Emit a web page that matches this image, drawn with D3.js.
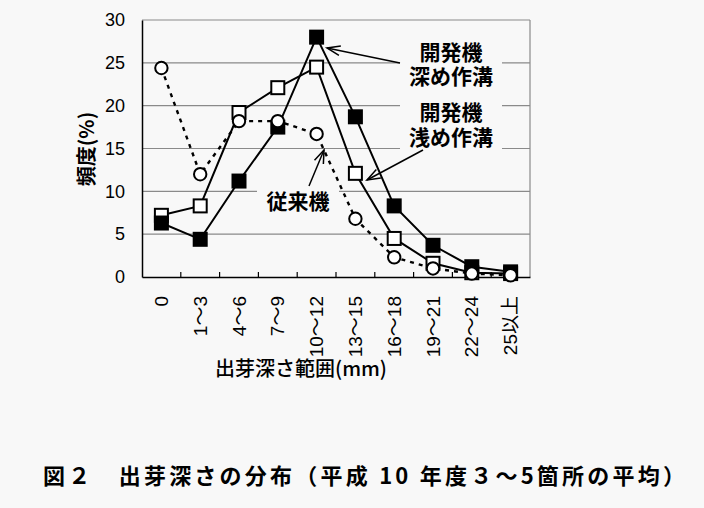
<!DOCTYPE html>
<html><head><meta charset="utf-8">
<script src="https://cdn.jsdelivr.net/npm/d3@7"></script>
<style>
html,body{margin:0;padding:0;background:#f8f8f8;}
svg{display:block;}
</style></head>
<body>
<svg id="chart" width="704" height="508"></svg>
<script>
const categories = ["0","1～3","4～6","7～9","10～12","13～15","16～18","19～21","22～24","25以上"];
const deepValues = [6.3, 4.4, 11.2, 17.5, 28.0, 18.7, 8.3, 3.7, 1.2, 0.6];
const shallowValues = [7.2, 8.3, 19.2, 22.1, 24.5, 12.1, 4.5, 1.6, 0.5, 0.4];
const conventionalValues = [24.4, 12.0, 18.2, 18.2, 16.7, 6.8, 2.3, 1.0, 0.4, 0.2];
const yTicks = [0,5,10,15,20,25,30];

(function(){
const font = "'Noto Sans CJK JP','Noto Sans CJK SC',sans-serif";
const tightFont = "'Liberation Sans','Noto Sans CJK JP',sans-serif";
const svg = d3.select("#chart");
const W = 704, H = 508;
svg.append("rect").attr("width",W).attr("height",H).attr("fill","#f8f8f8");

const pL = 142, pR = 530, pT = 20, pB = 277;
const x = d3.scaleBand().domain(categories).range([pL,pR]).padding(0);
const y = d3.scaleLinear().domain([0,30]).range([pB,pT]);
const cx = d => x(d) + x.bandwidth()/2;

// gridlines
const g = svg.append("g");
g.selectAll("line.grid").data(yTicks.filter(v=>v>0)).join("line")
  .attr("x1",pL).attr("x2",pR).attr("y1",d=>y(d)).attr("y2",d=>y(d))
  .attr("stroke","#8a8a8a").attr("stroke-width",1.2);
g.append("line").attr("x1",pR).attr("x2",pR).attr("y1",pT).attr("y2",pB)
  .attr("stroke","#8a8a8a").attr("stroke-width",1.2);

// y axis
const yAxis = d3.axisLeft(y).tickValues(yTicks).tickSize(0).tickPadding(17);
const ya = svg.append("g").attr("transform",`translate(${pL},0)`).call(yAxis);
ya.select(".domain").attr("stroke","#000").attr("stroke-width",1.5);
ya.selectAll("text").attr("font-family","Arial, 'Liberation Sans', sans-serif").attr("font-size",18).attr("fill","#000");

// x axis
const xa = svg.append("g").attr("transform",`translate(0,${pB})`)
  .call(d3.axisBottom(x).tickSize(0).tickFormat(""));
xa.select(".domain").attr("stroke","#000").attr("stroke-width",1.5);
svg.append("g").selectAll("line").data(categories.slice(1)).join("line")
  .attr("x1",d=>x(d)).attr("x2",d=>x(d)).attr("y1",pB).attr("y2",pB-5)
  .attr("stroke","#000").attr("stroke-width",1.2);

// x tick labels rotated
svg.append("g").selectAll("text").data(categories).join("text")
  .attr("transform",d=>`translate(${cx(d)},${296}) rotate(-90)`)
  .attr("text-anchor","end").attr("dy","0.35em")
  .attr("font-family","Arial, 'Liberation Sans', 'Noto Sans CJK JP', sans-serif").attr("font-size",19)
  .text(d=>d);

// axis titles
svg.append("text").attr("transform",`translate(87,149) rotate(-90)`)
  .attr("text-anchor","middle").attr("dy","0.35em").attr("font-family",font).attr("font-size",20).attr("font-weight",700)
  .text("頻度(%)");
svg.append("text").attr("x",301).attr("y",376).attr("text-anchor","middle")
  .attr("font-family",font).attr("font-size",20).attr("font-weight",500)
  .text("出芽深さ範囲(mm)");

function label(lines, cxp, cyFirst, lh, bw){
  const grp = svg.append("g");
  const bh = lh*lines.length + 4;
  grp.append("rect").attr("x",cxp-bw/2).attr("y",cyFirst-lh/2-2).attr("width",bw).attr("height",bh).attr("fill","#f8f8f8");
  lines.forEach((s,i)=>{
    grp.append("text").attr("x",cxp).attr("y",cyFirst+i*lh).attr("dy","0.36em")
      .attr("text-anchor","middle").attr("font-family",tightFont).attr("font-size",21).attr("font-weight",700)
      .text(s);
  });
}
label(["開発機","深め作溝"],451,52,24,102);
label(["開発機","浅め作溝"],451,112,25,102);
label(["従来機"],298,201,24,82);

function arrow(x1,y1,x2,y2){
  const ang = Math.atan2(y2-y1,x2-x1);
  const L = 14, a = 0.35;
  svg.append("line").attr("x1",x1).attr("y1",y1).attr("x2",x2).attr("y2",y2).attr("stroke","#000").attr("stroke-width",1.5);
  svg.append("path").attr("d",`M${x2-L*Math.cos(ang-a)},${y2-L*Math.sin(ang-a)} L${x2},${y2} L${x2-L*Math.cos(ang+a)},${y2-L*Math.sin(ang+a)}`)
    .attr("fill","none").attr("stroke","#000").attr("stroke-width",1.5);
}

const line = vals => d3.line().x((d,i)=>cx(categories[i])).y(d=>y(d))(vals);
svg.append("path").attr("d",line(shallowValues)).attr("fill","none").attr("stroke","#000").attr("stroke-width",2);
svg.append("path").attr("d",line(deepValues)).attr("fill","none").attr("stroke","#000").attr("stroke-width",2);
svg.append("path").attr("d",line(conventionalValues)).attr("fill","none").attr("stroke","#000").attr("stroke-width",2.4).attr("stroke-dasharray","4,5");

const s = 13;
svg.append("g").selectAll("rect").data(shallowValues).join("rect")
  .attr("x",(d,i)=>cx(categories[i])-s/2).attr("y",d=>y(d)-s/2).attr("width",s).attr("height",s)
  .attr("fill","#fff").attr("stroke","#000").attr("stroke-width",2);
svg.append("g").selectAll("rect").data(deepValues).join("rect")
  .attr("x",(d,i)=>cx(categories[i])-s/2).attr("y",d=>y(d)-s/2).attr("width",s).attr("height",s)
  .attr("fill","#000").attr("stroke","#000").attr("stroke-width",2);
svg.append("g").selectAll("circle").data(conventionalValues).join("circle")
  .attr("cx",(d,i)=>cx(categories[i])).attr("cy",d=>y(d)).attr("r",6.2)
  .attr("fill","#fff").attr("stroke","#000").attr("stroke-width",2);

arrow(400,63,327,48);
arrow(423,150,367,180);
arrow(309,186,324,150);

svg.append("text").attr("x",43).attr("y",484)
  .attr("font-family",font).attr("font-size",22).attr("font-weight",700)
  .attr("textLength",642).attr("lengthAdjust","spacing")
  .text("図２　出芽深さの分布（平成 10 年度３～5箇所の平均）");
})();
</script>
</body></html>
